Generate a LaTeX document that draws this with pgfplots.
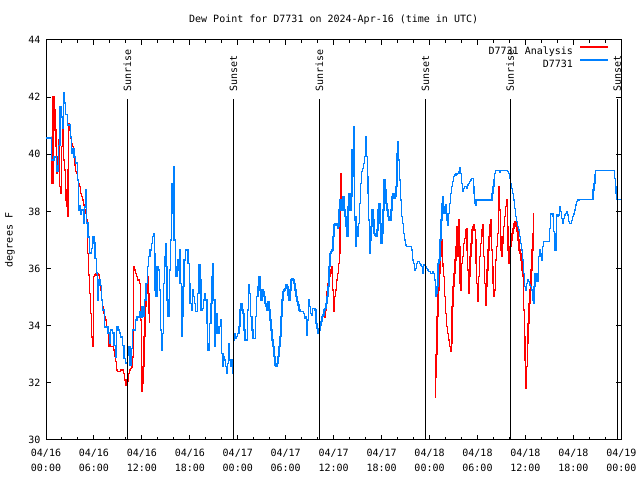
\documentclass[border=0pt]{standalone}
\usepackage{fontspec}
\setmainfont{DejaVu Sans Mono}
\usepackage{pgfplots}
\pgfplotsset{compat=1.18}
\definecolor{obsblue}{RGB}{0,128,255}
\definecolor{anared}{RGB}{255,0,0}

\pgfplotstableread{
h v
0.00 40.57
0.67 39.8
1.00 39.9
1.33 39.4
1.50 39.6
1.60 40.3
1.75 41.65
1.90 41.3
2.05 40.9
2.17 42.15
2.33 41.8
2.45 41.4
2.67 41.0
2.87 41.05
3.08 40.6
3.20 40.05
3.37 40.2
3.50 39.9
3.70 39.7
3.92 39.1
4.04 38.05
4.20 38.2
4.33 37.9
4.45 38.05
4.66 37.6
4.83 38.15
4.96 38.75
5.08 37.6
5.25 37.1
5.46 36.55
5.67 36.7
5.83 37.1
6.00 36.9
6.13 36.35
6.30 35.85
6.42 34.9
6.54 35.6
6.75 35.4
6.92 34.9
7.08 34.55
7.33 33.95
7.58 33.95
7.75 33.75
7.92 33.4
8.08 33.85
8.29 33.75
8.50 33.3
8.67 32.9
8.83 33.95
9.00 33.85
9.17 33.75
9.33 33.6
9.54 33.3
9.75 32.85
9.96 32.7
10.17 32.95
10.38 33.25
10.50 32.6
10.67 33.2
10.83 33.85
11.17 34.2
11.40 34.3
11.67 34.5
11.83 34.3
12.00 34.67
12.21 34.32
12.33 34.9
12.50 35.48
12.67 36.07
12.83 36.42
13.00 36.65
13.17 36.88
13.33 37.12
13.42 37.23
13.54 36.53
13.63 35.25
13.75 35.02
13.88 36.07
14.08 35.95
14.21 35.25
14.33 33.85
14.42 33.15
14.50 33.73
14.67 35.48
14.83 36.42
14.92 36.88
15.00 36.07
15.13 34.9
15.25 34.32
15.42 35.95
15.58 37.0
15.71 37.93
15.79 38.98
15.88 38.75
15.96 39.57
16.04 37.0
16.17 36.07
16.29 35.72
16.42 35.95
16.54 36.3
16.67 36.65
16.79 35.48
16.92 33.62
17.00 34.32
17.13 35.37
17.25 36.3
17.42 36.65
17.63 36.65
17.75 36.18
17.92 35.48
18.04 34.78
18.17 34.55
18.33 35.25
18.46 35.02
18.58 34.78
18.71 34.49
18.88 34.49
19.00 35.13
19.17 36.12
19.29 35.6
19.42 34.55
19.58 34.61
19.75 34.9
19.88 35.13
20.00 34.9
20.13 34.08
20.25 33.15
20.38 33.38
20.50 34.08
20.67 34.78
20.79 35.72
20.92 36.18
21.00 34.9
21.13 33.27
21.25 33.73
21.38 34.43
21.50 33.97
21.63 33.73
21.75 33.97
21.88 34.2
22.00 33.03
22.13 32.57
22.25 32.92
22.38 32.8
22.50 32.57
22.63 32.33
22.75 32.68
22.88 33.38
23.00 32.8
23.13 32.57
23.25 32.8
23.38 32.33
23.50 33.5
23.63 33.73
23.75 33.56
23.88 33.62
24.00 33.73
24.17 33.97
24.28 34.55
24.40 34.78
24.53 34.55
24.65 34.43
24.78 33.85
24.90 33.5
25.11 33.5
25.24 34.55
25.36 35.42
25.49 35.13
25.61 34.32
25.78 33.85
25.90 33.56
26.07 33.56
26.20 34.32
26.36 35.02
26.53 35.37
26.65 35.72
26.78 35.25
26.90 34.9
27.03 35.25
27.15 35.19
27.28 35.02
27.40 34.78
27.53 34.67
27.65 34.55
27.78 34.84
27.90 34.55
28.03 34.2
28.15 33.85
28.28 33.5
28.40 33.27
28.53 32.92
28.65 32.62
28.78 32.57
28.90 32.68
29.03 32.92
29.15 33.27
29.28 33.62
29.40 34.32
29.53 34.9
29.65 35.19
29.78 35.25
29.90 35.31
30.03 35.42
30.15 35.37
30.28 35.07
30.40 34.9
30.53 35.25
30.65 35.6
30.78 35.66
30.90 35.6
31.03 35.48
31.15 35.25
31.28 35.02
31.40 34.84
31.53 34.72
31.65 34.55
31.78 34.49
31.99 34.49
32.20 34.43
32.32 34.26
32.45 34.32
32.57 33.97
32.66 33.67
32.74 34.2
32.86 34.9
32.99 34.67
33.11 34.43
33.24 34.37
33.36 34.61
33.53 34.61
33.65 34.55
33.78 34.08
33.90 33.91
34.03 33.73
34.15 33.85
34.28 34.02
34.40 34.14
34.53 34.32
34.65 34.37
34.78 34.55
34.90 34.61
35.03 34.78
35.15 35.02
35.28 35.37
35.40 36.07
35.53 36.53
35.65 36.59
35.78 36.65
35.90 37.12
36.03 37.52
36.15 37.58
36.28 37.58
36.40 37.52
36.53 37.41
36.55 37.47
36.68 38.05
36.80 38.4
36.93 38.05
37.05 38.28
37.18 38.52
37.30 38.05
37.43 37.82
37.55 37.47
37.68 37.12
37.80 38.17
37.93 38.63
38.05 38.05
38.18 38.52
38.30 40.15
38.38 39.92
38.47 40.97
38.55 39.22
38.63 37.7
38.72 36.77
38.80 37.82
38.88 37.47
38.97 37.12
39.09 37.58
39.22 38.28
39.34 38.98
39.47 39.39
39.59 39.51
39.72 39.68
39.84 39.92
39.97 40.38
40.05 40.62
40.13 39.92
40.22 39.22
40.30 38.63
40.38 37.7
40.47 36.53
40.55 37.0
40.68 37.47
40.80 38.05
40.93 37.7
41.05 37.23
41.18 37.17
41.30 37.12
41.43 37.35
41.55 38.05
41.68 38.28
41.80 37.58
41.93 36.88
42.05 37.23
42.18 38.05
42.30 39.1
42.43 38.75
42.55 38.28
42.68 38.05
42.80 37.82
42.93 37.7
43.05 37.7
43.18 38.05
43.30 38.52
43.43 38.63
43.55 38.46
43.68 38.52
43.80 38.87
43.93 40.03
44.01 40.44
44.09 39.8
44.22 39.1
44.34 38.4
44.47 37.82
44.59 37.58
44.72 37.23
44.84 37.0
44.97 36.82
45.09 36.77
45.72 36.65
45.84 36.3
45.97 36.18
46.09 35.95
46.22 36.01
46.34 36.18
46.47 36.24
46.72 36.18
46.84 36.12
46.97 36.07
47.09 35.83
47.22 36.12
47.34 36.12
47.47 36.07
47.59 36.01
47.72 35.95
47.84 35.89
48.09 35.83
48.34 35.89
48.47 35.83
48.59 35.6
48.72 35.02
48.81 35.13
48.94 35.37
49.06 36.18
49.19 36.3
49.31 37.0
49.44 37.7
49.56 38.28
49.64 38.52
49.73 37.93
49.81 38.17
49.89 38.05
49.98 38.22
50.06 37.93
50.19 37.7
50.31 37.52
50.39 37.93
50.48 38.28
50.60 38.63
50.73 38.87
50.85 39.04
50.98 39.22
51.10 39.27
51.31 39.31
51.52 39.33
51.69 39.39
51.77 39.54
51.85 39.33
51.98 38.98
52.10 38.69
52.23 38.81
52.35 38.87
52.60 38.81
52.73 38.92
52.85 38.98
52.98 39.04
53.10 39.1
53.23 39.16
53.48 38.87
53.56 38.63
53.64 38.28
53.73 38.22
53.81 38.4
55.81 38.63
55.94 38.87
56.06 39.1
56.14 39.33
56.23 39.43
56.73 39.36
56.89 39.43
57.73 39.39
57.85 39.33
57.98 39.16
58.10 38.98
58.23 38.81
58.35 38.63
58.48 38.4
58.60 38.11
58.73 37.82
58.85 37.64
58.98 37.47
59.10 37.35
59.23 37.12
59.35 36.88
59.48 36.65
59.60 36.3
59.73 35.83
59.85 35.37
59.98 35.25
60.10 35.48
60.23 35.6
60.35 35.54
60.48 35.42
60.60 35.37
60.73 35.25
60.85 34.9
60.98 34.78
61.08 35.37
61.21 35.83
61.33 35.66
61.46 35.54
61.58 35.83
61.66 36.42
61.75 36.65
61.83 36.42
61.91 36.53
62.04 36.3
62.16 36.77
62.29 36.94
62.96 36.94
63.04 37.41
63.16 37.91
63.46 37.82
63.54 37.29
63.62 36.65
63.71 37.23
63.79 36.65
63.87 37.87
64.00 37.82
64.12 37.87
64.25 37.99
64.33 38.17
64.41 37.99
64.54 37.76
64.66 37.58
64.79 37.76
64.91 37.87
65.04 37.93
65.16 37.99
65.29 37.87
65.41 37.64
65.54 37.58
65.79 37.68
65.91 37.82
66.04 37.91
66.16 38.05
66.29 38.22
66.41 38.34
66.54 38.4
66.71 38.42
68.37 38.42
68.45 38.75
68.58 38.98
68.71 39.27
68.79 39.43
71.08 39.43
71.16 39.16
71.25 38.87
71.33 38.63
71.41 38.42
72.00 38.42
}\obsdata

\pgfplotstableread{
h v
0.70 40.6
0.75 39.0
0.88 42.0
1.00 41.55
1.13 40.85
1.25 40.27
1.33 39.33
1.46 39.92
1.58 40.5
1.67 38.87
1.79 38.63
1.92 40.27
2.04 41.2
2.17 39.8
2.29 39.45
2.42 38.75
2.50 38.4
2.58 38.17
2.67 37.82
2.75 39.45
2.83 41.08
2.96 40.85
3.08 40.56
3.21 40.38
3.33 40.27
3.46 39.92
3.58 39.62
3.71 39.39
3.83 39.33
3.96 39.1
4.08 38.98
4.21 38.87
4.33 38.63
4.46 38.52
4.58 38.4
4.71 38.22
4.83 38.05
4.96 37.93
5.08 37.7
5.21 36.53
5.33 35.77
5.46 35.13
5.58 34.43
5.71 33.6
5.79 33.27
5.92 35.72
6.08 35.77
6.25 35.83
6.42 35.83
6.54 35.77
6.67 35.6
6.79 35.25
6.92 34.9
7.04 34.67
7.17 34.43
7.29 34.32
7.42 34.2
7.54 33.97
7.67 33.73
7.79 33.27
7.92 33.38
8.04 33.27
8.29 33.27
8.42 33.15
8.54 32.92
8.67 32.74
8.79 32.45
8.92 32.39
9.33 32.45
9.54 32.45
9.67 32.33
9.79 32.1
9.92 31.92
10.04 32.1
10.17 32.04
10.29 32.33
10.42 32.45
10.54 32.51
10.67 32.56
10.79 32.91
10.92 36.07
11.04 35.95
11.17 35.83
11.29 35.72
11.42 35.6
11.54 35.6
11.67 35.48
11.79 34.2
11.92 31.69
12.00 31.98
12.13 32.57
12.25 33.62
12.38 34.67
12.50 35.13
12.63 35.37
12.71 35.72
12.79 35.13
12.88 34.43
12.92 34.08
}\anaA

\pgfplotstableread{
h v
34.85 34.3
34.90 34.55
35.03 34.78
35.15 35.19
35.28 35.48
35.40 35.72
35.53 35.83
35.65 35.95
35.78 36.07
35.86 35.25
35.95 34.55
36.03 34.49
36.11 35.02
36.24 35.25
36.36 35.6
36.49 35.83
36.61 36.18
36.70 36.53
36.78 37.5
36.86 38.3
36.93 39.33
36.98 38.4
}\anaB

\pgfplotstableread{
h v
48.69 31.5
48.75 32.2
48.81 33.0
48.94 34.32
49.06 35.25
49.19 35.83
49.31 36.42
49.44 36.65
49.52 37.0
49.60 36.18
49.69 36.07
49.77 35.72
49.89 35.02
50.02 34.43
50.14 33.97
50.27 33.73
50.39 33.5
50.52 33.27
50.64 33.09
50.73 33.38
50.81 34.67
50.94 35.37
51.06 35.83
51.19 36.3
51.31 36.77
51.39 37.47
51.48 37.12
51.56 36.42
51.64 37.7
51.73 36.77
51.81 35.48
51.89 35.25
51.98 36.18
52.10 36.42
52.23 36.88
52.35 37.06
52.48 37.35
52.60 37.41
52.69 36.65
52.77 35.95
52.85 35.13
52.94 35.72
53.06 36.42
53.19 36.88
53.31 37.35
53.44 37.47
53.56 37.52
53.64 37.35
53.73 37.0
53.81 36.18
53.89 35.48
54.02 34.84
54.10 35.72
54.23 36.42
54.35 36.88
54.48 37.35
54.60 37.52
54.69 37.12
54.77 36.42
54.89 35.48
54.98 34.72
55.06 35.37
55.19 35.95
55.31 36.65
55.44 37.12
55.56 37.52
55.69 37.7
55.77 36.65
55.85 36.07
55.94 35.48
56.02 35.02
56.10 35.25
56.23 36.3
56.35 36.77
56.48 37.23
56.60 38.05
56.69 38.87
56.77 38.05
56.85 37.12
56.94 36.65
57.02 36.42
57.10 36.88
57.19 37.12
57.27 37.47
57.39 37.82
57.52 38.17
57.64 38.4
57.73 37.47
57.81 36.65
57.89 36.18
57.98 36.53
58.06 36.77
58.19 37.0
58.31 37.23
58.44 37.41
58.56 37.58
58.69 37.64
58.81 37.47
58.94 37.29
59.06 37.0
59.19 36.65
59.31 36.53
59.44 36.3
59.56 35.95
59.69 35.72
59.77 34.55
59.85 33.62
59.94 32.8
60.02 32.1
60.06 31.81
60.14 32.57
60.23 33.38
60.31 34.08
60.44 34.78
60.56 35.25
60.69 35.95
60.81 36.65
60.94 37.23
61.02 37.93
}\anaC

\begin{document}
\begin{tikzpicture}[font=\fontsize{10bp}{12bp}\selectfont]
\begin{axis}[
  scale only axis,
  width=575.3bp, height=400bp,
  xmin=0, xmax=72, ymin=30, ymax=44,
  clip=false,
  axis line style={line width=1bp},
  xtick={0,6,...,72},
  xticklabels={04/16\\00:00,04/16\\06:00,04/16\\12:00,04/16\\18:00,04/17\\00:00,04/17\\06:00,04/17\\12:00,04/17\\18:00,04/18\\00:00,04/18\\06:00,04/18\\12:00,04/18\\18:00,04/19\\00:00},
  minor x tick num=2,
  ytick={30,32,...,44},
  tick align=inside,
  major tick length=5bp,
  minor tick length=3bp,
  every tick/.style={black, line width=1bp},
  xticklabel style={align=center, font=\fontsize{10bp}{15bp}\selectfont, yshift=-6bp},
  yticklabel style={xshift=-2bp},
  /pgf/number format/assume math mode=true,
  title={Dew Point for D7731 on 2024-Apr-16 (time in UTC)},
  title style={at={(0.5,1)}, anchor=base, yshift=11.5bp, inner sep=0pt},
  legend style={draw=none, fill=none, at={(1,1)}, anchor=north east,
    xshift=-12.3bp, yshift=-6.4bp, inner sep=0pt, outer sep=0pt,
    row sep=3.3bp, column sep=6.7bp,
    nodes={inner sep=0pt, outer sep=0pt},
    font=\fontsize{10bp}{12bp}\selectfont},
  legend cell align=right,
  legend plot pos=right,
  legend image code/.code={\draw[#1] (0bp,4.5bp) -- (28bp,4.5bp);},
]
\addplot[const plot, color=anared, line width=1.35bp] table[x=h,y=v] {\anaA};
\addlegendentry{D7731 Analysis}
\addplot[const plot, color=anared, line width=1.35bp, forget plot] table[x=h,y=v] {\anaB};
\addplot[const plot, color=anared, line width=1.35bp, forget plot] table[x=h,y=v] {\anaC};
\addplot[const plot, color=obsblue, line width=1.35bp] table[x=h,y=v] {\obsdata};
\addlegendentry{D7731}

\draw[line width=1.3bp] (axis cs:10.18,30) -- (axis cs:10.18,41.92);
\draw[line width=1.3bp] (axis cs:23.45,30) -- (axis cs:23.45,41.92);
\draw[line width=1.3bp] (axis cs:34.21,30) -- (axis cs:34.21,41.92);
\draw[line width=1.3bp] (axis cs:47.48,30) -- (axis cs:47.48,41.92);
\draw[line width=1.3bp] (axis cs:58.10,30) -- (axis cs:58.10,41.92);
\draw[line width=1.3bp] (axis cs:71.50,30) -- (axis cs:71.50,41.92);
\node[rotate=90, anchor=west, inner sep=0pt] at (axis cs:10.18,42.19) {Sunrise};
\node[rotate=90, anchor=west, inner sep=0pt] at (axis cs:23.45,42.19) {Sunset};
\node[rotate=90, anchor=west, inner sep=0pt] at (axis cs:34.21,42.19) {Sunrise};
\node[rotate=90, anchor=west, inner sep=0pt] at (axis cs:47.48,42.19) {Sunset};
\node[rotate=90, anchor=west, inner sep=0pt] at (axis cs:58.10,42.19) {Sunrise};
\node[rotate=90, anchor=west, inner sep=0pt] at (axis cs:71.50,42.19) {Sunset};
\node[rotate=90] at ([xshift=-36bp]rel axis cs:0,0.5) {degrees F};
\end{axis}
\pgfresetboundingbox
\path (current axis.south west) ++(-46bp,-40bp) rectangle ++(640bp,480bp);
\end{tikzpicture}
\end{document}
